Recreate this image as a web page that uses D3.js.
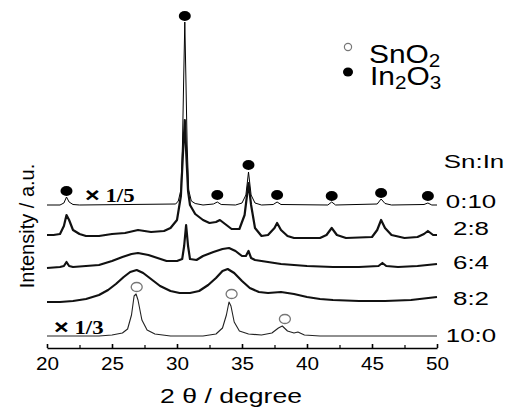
<!DOCTYPE html>
<html>
<head>
<meta charset="utf-8">
<script src="https://cdn.jsdelivr.net/npm/d3@7"></script>
<style>
body { margin: 0; background: #fff; }
svg { display: block; }
text { font-family: "Liberation Sans", Arial, sans-serif; fill: #000; }
</style>
</head>
<body>
<script>
// samples (Sn:In ratio), top to bottom
var samples = ["0:10", "2:8", "6:4", "8:2", "10:0"];
// stacking offset of each pattern (a.u.)
var offsets = [143, 112, 82, 48, 12];
var scaleNotes = ["1/5", null, null, null, "1/3"];

// [2theta, intensity above own baseline]
var xrd_0_10 = [[20,0],[21.0,0],[21.3,2],[21.5,8],[21.7,3],[22.0,0.5],[22.5,0],[29.9,1],[30.1,4],[30.3,15],[30.42,60],[30.52,130],[30.6,183],[30.68,130],[30.78,60],[30.9,15],[31.1,4],[31.4,1.5],[32.0,0],[32.8,1],[33.1,3],[33.4,0.5],[34.5,0],[35.0,2],[35.3,10],[35.5,33],[35.7,10],[36.0,2],[36.5,0],[37.4,0.5],[37.7,3],[38.0,0.5],[41.6,0],[41.9,3],[42.2,0],[45.4,1],[45.7,6],[46.0,1.5],[46.5,0],[49.0,0.5],[49.3,2],[49.6,0],[50,0]];
var xrd_2_8 = [[20,1],[20.5,1],[21.0,2],[21.3,10],[21.5,21],[21.7,16],[22.0,6],[22.5,2],[23.0,0],[24,0],[25,2],[26,3],[27,6],[28,4],[29,5],[29.5,8],[30.0,16],[30.3,40],[30.45,80],[30.6,116],[30.72,80],[30.85,45],[31.0,31],[31.4,22],[32.0,16],[32.5,13],[33.0,14],[33.3,16],[33.7,12],[34.2,7],[34.8,7],[35.2,21],[35.5,53],[35.7,31],[36.0,8],[36.5,0],[37.0,1],[37.5,8],[37.7,13],[38.0,6],[38.5,0],[39.0,-2],[41,-2],[41.5,1],[41.9,8],[42.3,1],[43,-2],[45,-1],[45.4,6],[45.7,16],[46.0,8],[46.5,1],[47.5,-2],[48.5,-1],[49.0,2],[49.3,5],[49.7,1],[50,1]];
var xrd_6_4 = [[20,-2],[21.0,-1],[21.3,0],[21.5,4],[21.7,0],[22.0,-1],[23.0,0],[24.0,1],[25.0,5],[25.8,9],[26.5,12],[27.0,13],[27.8,11],[28.5,8],[29.2,5],[30.0,5],[30.4,7],[30.55,20],[30.7,41],[30.85,20],[31.0,7],[31.5,6],[32.0,10],[32.8,14],[33.5,17],[34.0,18],[34.5,15],[35.0,10],[35.3,10],[35.5,15],[35.7,8],[36.0,6],[37.0,4],[38.0,2],[39.0,1],[40.0,0],[42.0,-1],[44.0,-1],[45.5,0],[45.8,3],[46.1,0],[47.0,-1],[48.5,0],[50.0,2]];
var xrd_8_2 = [[20,-2],[21,-2],[22,-1],[23,1],[24,5],[24.7,10],[25.3,16],[25.9,23],[26.4,28],[26.9,30],[27.4,27],[28.0,21],[28.7,14],[29.5,9],[30.2,7],[31.0,7],[31.7,9],[32.4,15],[33.0,22],[33.5,29],[33.9,31],[34.4,27],[35.0,19],[35.6,12],[36.3,8],[37.0,7],[38.0,8],[39.0,6],[40.0,3],[41.0,1],[42.0,0],[44.0,-1],[46.0,-1],[48.0,0],[50.0,3]];
var xrd_10_0 = [[20,0],[22,0],[24,0],[25.0,1],[25.8,3],[26.2,7],[26.5,21],[26.7,40],[26.85,42],[27.0,36],[27.3,16],[27.7,6],[28.3,2],[29.5,0],[32.0,0],[33.0,2],[33.5,8],[33.8,21],[34.0,34],[34.15,30],[34.4,14],[34.8,5],[35.5,2],[36.5,1],[37.3,3],[37.8,8],[38.1,10],[38.5,5],[39.0,3],[39.3,4],[39.8,1],[41,0],[50,0]];
var patterns = [xrd_0_10, xrd_2_8, xrd_6_4, xrd_8_2, xrd_10_0];

// peak markers: In2O3 on 0:10, SnO2 on 10:0
var in2o3Peaks = [21.5, 30.6, 33.1, 35.5, 37.7, 41.9, 45.7, 49.3];
var in2o3MarkI = [14, 189, 10, 40, 10, 9, 12, 9];
var sno2Peaks = [26.9, 34.2, 38.3];
var sno2MarkI = [49, 42, 17];

var xTicks = [20, 25, 30, 35, 40, 45, 50];
var xMinor = [22.5, 27.5, 32.5, 37.5, 42.5, 47.5];

var width = 512, height = 410;
var svg = d3.select("body").append("svg").attr("width", width).attr("height", height);

var x = d3.scaleLinear().domain([20, 50]).range([47, 437]);
var y = d3.scaleLinear().domain([0, 340]).range([348, 8]);

function stretch(sel, px, py, sx) {
    sel.attr("transform", "translate(" + px + "," + py + ") scale(" + sx + ",1)");
}

//曲线
var line = d3.line().x(function (d) { return x(d[0]); });
var widths = [1, 2.2, 2.2, 2.2, 1.1];
var colors = ["#000", "#111", "#111", "#111", "#222"];
patterns.forEach(function (p, i) {
    line.y(function (d) { return y(offsets[i] + d[1]); });
    svg.append("path").datum(p)
        .attr("d", line)
        .style("fill", "none")
        .style("stroke", colors[i])
        .style("stroke-width", widths[i])
        .style("stroke-linejoin", "round");
});

//标记
svg.selectAll("ellipse.in").data(in2o3Peaks).enter().append("ellipse")
    .attr("class", "in")
    .attr("cx", function (d) { return x(d); })
    .attr("cy", function (d, i) { return y(offsets[0] + in2o3MarkI[i]); })
    .attr("rx", 6).attr("ry", 5)
    .style("fill", "#000");
svg.selectAll("ellipse.sn").data(sno2Peaks).enter().append("ellipse")
    .attr("class", "sn")
    .attr("cx", function (d) { return x(d); })
    .attr("cy", function (d, i) { return y(offsets[4] + sno2MarkI[i]); })
    .attr("rx", 5.5).attr("ry", 4.5)
    .style("fill", "#fff").style("stroke", "#777").style("stroke-width", 1.3);

// x axis
var gx = svg.append("g").attr("transform", "translate(0,348)")
    .call(d3.axisBottom(x).tickValues(xTicks).tickSizeInner(-4).tickSizeOuter(0).tickPadding(9));
gx.select(".domain").style("stroke-width", 1.6);
gx.selectAll(".tick line").style("stroke-width", 1.6);
gx.selectAll("text")
    .style("font-family", "'Liberation Sans', Arial, sans-serif")
    .style("font-size", "18.5px")
    .attr("transform", "scale(1.12,1)");
var gm = svg.append("g").attr("transform", "translate(0,348)")
    .call(d3.axisBottom(x).tickValues(xMinor).tickSize(-3).tickFormat(""));
gm.select(".domain").remove();
gm.selectAll(".tick line").style("stroke-width", 1.2);

// axis titles
stretch(svg.append("text").text("2 θ / degree")
    .style("font-size", "20px").attr("text-anchor", "middle"), 231, 403, 1.33);
svg.append("text").text("Intensity / a.u.")
    .style("font-size", "20px").attr("text-anchor", "middle")
    .attr("transform", "translate(34,226) rotate(-90)");

// sample labels
var labelBase = [208, 235, 269, 305, 342];
stretch(svg.append("text").text("Sn:In").style("font-size", "18.5px").attr("text-anchor", "middle"), 474, 168, 1.4);
samples.forEach(function (s, i) {
    stretch(svg.append("text").text(s).style("font-size", "18.5px").attr("text-anchor", "middle"), 471, labelBase[i], 1.4);
});

// × 1/5, × 1/3
var notePos = [[85, 202], null, null, null, [54, 334]];
scaleNotes.forEach(function (n, i) {
    if (!n) return;
    var t = svg.append("text").style("font-weight", "bold");
    t.append("tspan").text("×").style("font-size", "21px");
    t.append("tspan").text(" " + n).style("font-size", "19px")
        .style("font-family", "'Liberation Serif', 'Times New Roman', serif");
    stretch(t, notePos[i][0], notePos[i][1], 1.2);
});

// legend
svg.append("circle").attr("cx", 348).attr("cy", 47).attr("r", 3.6)
    .style("fill", "#fff").style("stroke", "#777").style("stroke-width", 1.2);
svg.append("ellipse").attr("cx", 348).attr("cy", 72).attr("rx", 5).attr("ry", 4.5).style("fill", "#000");
var l1 = svg.append("text").style("font-size", "26px");
l1.append("tspan").text("SnO");
l1.append("tspan").text("2").style("font-size", "18px").attr("dy", 4);
stretch(l1, 369, 63, 1.15);
var l2 = svg.append("text").style("font-size", "26px");
l2.append("tspan").text("In");
l2.append("tspan").text("2").style("font-size", "18px").attr("dy", 4);
l2.append("tspan").text("O").attr("dy", -4);
l2.append("tspan").text("3").style("font-size", "18px").attr("dy", 4);
stretch(l2, 370, 85, 1.15);
</script>
</body>
</html>
